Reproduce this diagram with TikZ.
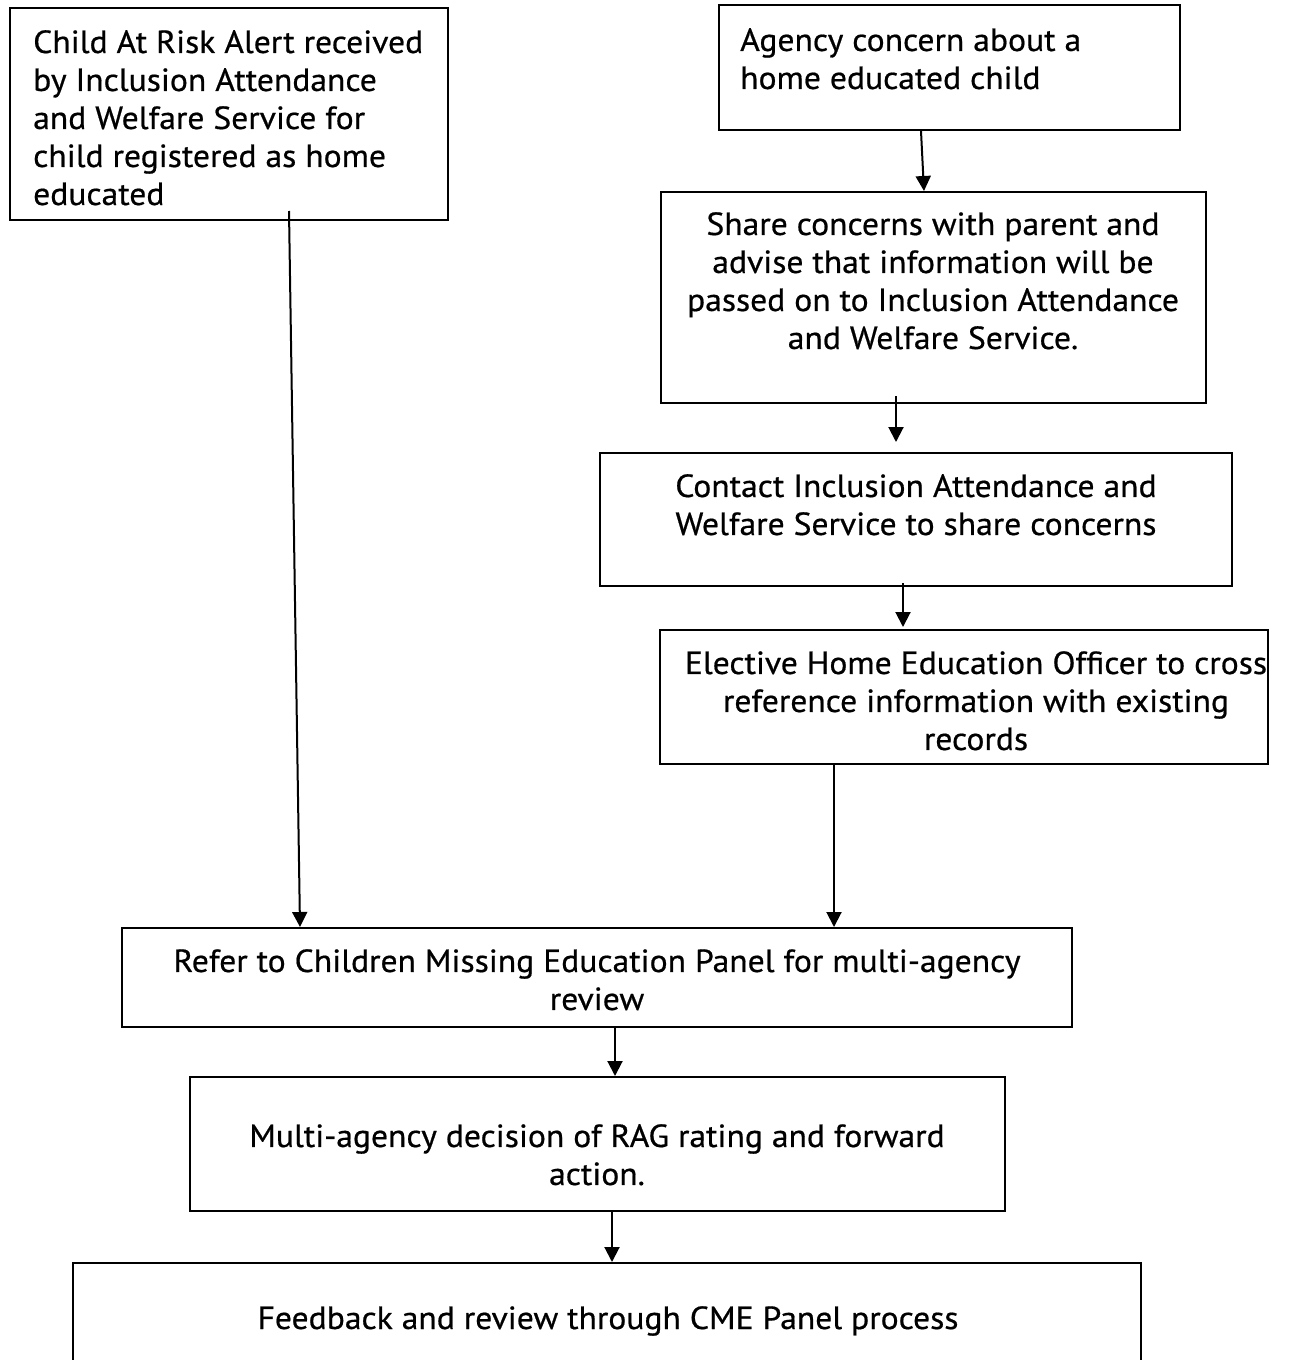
\documentclass[tikz,border=0pt]{standalone}
\usepackage{fontspec}
\setmainfont{PT Sans}[FakeStretch=1.05,FakeBold=0.6]
\usetikzlibrary{arrows.meta}
\begin{document}
\begin{tikzpicture}[x=1pt,y=-1pt,
  box/.style={draw,line width=2pt,rectangle,inner sep=0pt},
  txt/.style={inner sep=0pt,font=\fontsize{32}{38}\selectfont},
  arr/.style={line width=2pt,-{Triangle[width=15pt,length=15pt]}}]
\useasboundingbox (0,0) rectangle (1300,1360);
\clip (0,0) rectangle (1300,1360);
% boxes
\node[box,minimum width=438pt,minimum height=212pt] (b1) at (229,114) {};
\node[box,minimum width=461pt,minimum height=125pt] (b2) at (949.5,67.5) {};
\node[box,minimum width=545pt,minimum height=211pt] (b3) at (933.5,297.5) {};
\node[box,minimum width=632pt,minimum height=133pt] (b4) at (916,519.5) {};
\node[box,minimum width=608pt,minimum height=134pt] (b5) at (964,697) {};
\node[box,minimum width=950pt,minimum height=99pt] (b6) at (597,977.5) {};
\node[box,minimum width=815pt,minimum height=134pt] (b7) at (597.5,1144) {};
\node[box,minimum width=1068pt,minimum height=117pt] (b8) at (607,1321.5) {};
% texts
\node[txt,anchor=north west,align=left] (t1) at (33,30) {Child At Risk Alert received\\by Inclusion Attendance\\and Welfare Service for\\child registered as home\\educated};
\node[txt,anchor=north west,align=left] (t2) at (740,28) {Agency concern about a\\home educated child};
\node[txt,anchor=north,align=center] (t3) at (933,212) {Share concerns with parent and\\advise that information will be\\passed on to Inclusion Attendance\\and Welfare Service.};
\node[txt,anchor=north,align=center] (t4) at (916,474) {Contact Inclusion Attendance and\\Welfare Service to share concerns};
\node[txt,anchor=north,align=center] (t5) at (976,651) {Elective Home Education Officer to cross\\reference information with existing\\records};
\node[txt,anchor=north,align=center] (t6) at (597,949) {Refer to Children Missing Education Panel for multi-agency\\review};
\node[txt,anchor=north,align=center] (t7) at (597,1124) {Multi-agency decision of RAG rating and forward\\action.};
\node[txt,anchor=north,align=center] (t8) at (608,1306) {Feedback and review through CME Panel process};
% connectors
\draw[arr] ([xshift=60pt,yshift=10pt]b1.south) -- ([xshift=-297pt]b6.north);
\draw[arr] ([xshift=-28.5pt]b2.south) -- ([xshift=-9.5pt]b3.north);
\draw[arr] ([xshift=-37.5pt,yshift=8pt]b3.south) -- ([xshift=-20pt,yshift=10pt]b4.north);
\draw[arr] ([xshift=-13pt,yshift=4pt]b4.south) -- ([xshift=-61pt,yshift=2pt]b5.north);
\draw[arr] ([xshift=-130pt]b5.south) -- ([xshift=237pt]b6.north);
\draw[arr] ([xshift=18pt]b6.south) -- ([xshift=17.5pt]b7.north);
\draw[arr] ([xshift=14.5pt]b7.south) -- ([xshift=5pt]b8.north);
\end{tikzpicture}
\end{document}
